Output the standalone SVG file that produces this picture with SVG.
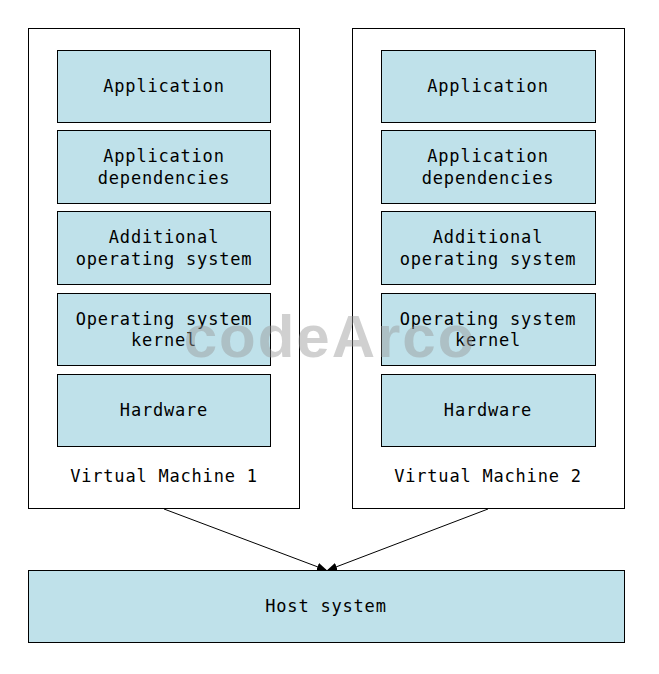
<svg xmlns="http://www.w3.org/2000/svg" width="659" height="674" viewBox="0 0 659 674">
<style>
.vm{fill:#fff;stroke:#000;stroke-width:1}
.b{fill:#bfe1ea;stroke:#000;stroke-width:1}
text{font-family:"DejaVu Sans Mono","Liberation Mono",monospace;font-size:17px;letter-spacing:0.8px;fill:#000;text-anchor:middle}
</style>
<defs><marker id="a" markerWidth="10" markerHeight="8" refX="9" refY="4" orient="auto"><path d="M0,0L10,4L0,8z" fill="#000"/></marker></defs>
<rect width="659" height="674" fill="#fff"/>
<g id="vm1"><rect class="vm" x="28.5" y="28.5" width="271" height="480"/><text x="164" y="482">Virtual Machine 1</text></g>
<g id="vm2"><rect class="vm" x="352.5" y="28.5" width="272" height="480"/><text x="488" y="482">Virtual Machine 2</text></g>
<g id="vm1-app"><rect class="b" x="57.5" y="50.5" width="213" height="72"/><text x="164" y="92">Application</text></g>
<g id="vm1-deps"><rect class="b" x="57.5" y="130.5" width="213" height="73"/><text x="164" y="162">Application</text><text x="164" y="184">dependencies</text></g>
<g id="vm1-os"><rect class="b" x="57.5" y="211.5" width="213" height="73"/><text x="164" y="243">Additional</text><text x="164" y="265">operating system</text></g>
<g id="vm1-kernel"><rect class="b" x="57.5" y="293.5" width="213" height="72"/><text x="164" y="325">Operating system</text><text x="164" y="346">kernel</text></g>
<g id="vm1-hw"><rect class="b" x="57.5" y="374.5" width="213" height="72"/><text x="164" y="416">Hardware</text></g>
<g id="vm2-app"><rect class="b" x="381.5" y="50.5" width="214" height="72"/><text x="488" y="92">Application</text></g>
<g id="vm2-deps"><rect class="b" x="381.5" y="130.5" width="214" height="73"/><text x="488" y="162">Application</text><text x="488" y="184">dependencies</text></g>
<g id="vm2-os"><rect class="b" x="381.5" y="211.5" width="214" height="73"/><text x="488" y="243">Additional</text><text x="488" y="265">operating system</text></g>
<g id="vm2-kernel"><rect class="b" x="381.5" y="293.5" width="214" height="72"/><text x="488" y="325">Operating system</text><text x="488" y="346">kernel</text></g>
<g id="vm2-hw"><rect class="b" x="381.5" y="374.5" width="214" height="72"/><text x="488" y="416">Hardware</text></g>
<g id="host"><rect class="b" x="28.5" y="570.5" width="596" height="72"/><text x="326" y="612">Host system</text></g>
<g id="connectors" stroke="#000" stroke-width="1" fill="none">
<line x1="164" y1="509" x2="326" y2="570" marker-end="url(#a)"/>
<line x1="488" y1="509" x2="328" y2="570" marker-end="url(#a)"/>
</g>
<text x="330" y="357" style="font-size:60px;letter-spacing:2px;font-weight:bold;fill:#999;opacity:0.45;font-family:'Liberation Sans',sans-serif">codeArco</text>
</svg>
